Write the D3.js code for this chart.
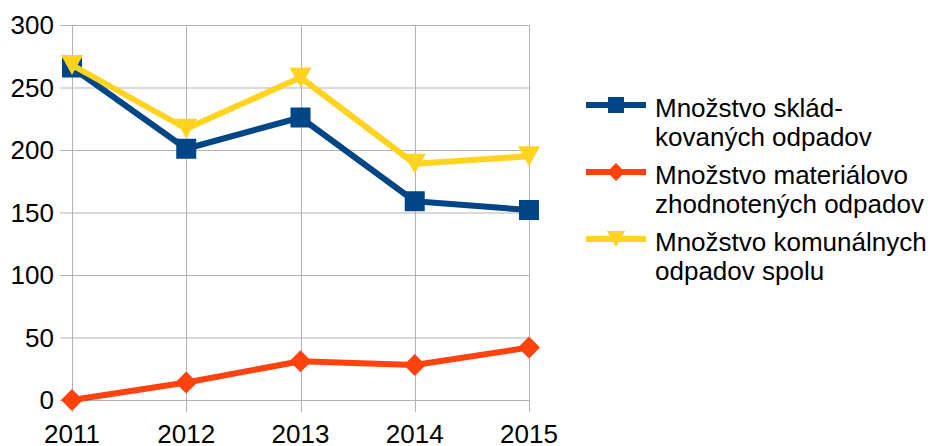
<!DOCTYPE html>
<html>
<head>
<meta charset="utf-8">
<script src="https://cdn.jsdelivr.net/npm/d3@7"></script>
<style>
  body { margin: 0; background: #fff; }
  text { font-family: "Liberation Sans", Arial, sans-serif; fill: #000; }
</style>
</head>
<body>
<svg width="933" height="446"></svg>
<script>
var years = ["2011", "2012", "2013", "2014", "2015"];
var yTicks = [0, 50, 100, 150, 200, 250, 300];

var skladovane = [266, 201, 226, 159, 152];
var zhodnotene = [0, 14, 31, 28, 42];
var komunalne = [268, 217, 258, 189, 195];

var seriesNames = [
  ["Množstvo sklád-", "kovaných odpadov"],
  ["Množstvo materiálovo", "zhodnotených odpadov"],
  ["Množstvo komunálnych", "odpadov spolu"]
];
var seriesColors = ["#004586", "#ff420e", "#ffd320"];
var seriesShapes = ["square", "diamond", "triangle"];

var series = [skladovane, zhodnotene, komunalne].map(function(v, i) {
  return { name: seriesNames[i], values: v, color: seriesColors[i], shape: seriesShapes[i] };
});

var svg = d3.select("svg");
var plot = {left: 72, right: 529, top: 25, bottom: 400};

var xScale = d3.scalePoint().domain(years).range([plot.left, plot.right]);
var yScale = d3.scaleLinear().domain([0, 300]).range([plot.bottom, plot.top]);

var grid = svg.append("g");
// horizontal gridlines (extend left as ticks)
grid.selectAll(".hgrid")
    .data(yTicks)
  .enter().append("line")
    .attr("x1", plot.left - 12).attr("x2", plot.right)
    .attr("y1", function(d) { return yScale(d) + 0.5; })
    .attr("y2", function(d) { return yScale(d) + 0.5; })
    .attr("stroke", "#b3b3b3").attr("stroke-width", 1);
// vertical gridlines (extend down as ticks)
grid.selectAll(".vgrid")
    .data(years)
  .enter().append("line")
    .attr("x1", function(d) { return Math.round(xScale(d)) + 0.5; })
    .attr("x2", function(d) { return Math.round(xScale(d)) + 0.5; })
    .attr("y1", plot.top).attr("y2", plot.bottom + 12)
    .attr("stroke", "#b3b3b3").attr("stroke-width", 1);

svg.selectAll(".ylab")
    .data(yTicks)
  .enter().append("text")
    .attr("x", 54)
    .attr("y", function(d) { return yScale(d) + 9; })
    .attr("text-anchor", "end")
    .style("font-size", "26px")
    .text(function(d) { return d; });

svg.selectAll(".xlab")
    .data(years)
  .enter().append("text")
    .attr("x", function(d) { return xScale(d); })
    .attr("y", 443)
    .attr("text-anchor", "middle")
    .style("font-size", "26px")
    .text(function(d) { return d; });

function marker(sel, shape, size) {
  if (shape === "square") {
    sel.append("rect")
      .attr("x", -size / 2).attr("y", -size / 2)
      .attr("width", size).attr("height", size);
  } else if (shape === "diamond") {
    var h = size / 2 + 1;
    sel.append("path").attr("d", "M0," + (-h) + "L" + h + ",0L0," + h + "L" + (-h) + ",0Z");
  } else {
    var w = size / 2 + 1;
    sel.append("path").attr("d", "M" + (-w) + "," + (-size / 2) + "L" + w + "," + (-size / 2) + "L0," + (size / 2) + "Z");
  }
}

var line = d3.line()
    .x(function(d, i) { return xScale(years[i]); })
    .y(function(d) { return yScale(d); });

series.forEach(function(s) {
  var g = svg.append("g");
  g.append("path")
    .attr("d", line(s.values))
    .attr("fill", "none")
    .attr("stroke", s.color)
    .attr("stroke-width", 6)
    .attr("stroke-linejoin", "round");
  s.values.forEach(function(v, i) {
    var m = g.append("g")
      .attr("transform", "translate(" + xScale(years[i]) + "," + yScale(v) + ")")
      .attr("fill", s.color);
    marker(m, s.shape, 20);
  });
});

// legend
var legend = svg.append("g");
series.forEach(function(s, i) {
  var cy = 105 + i * 67;
  var lg = legend.append("g");
  lg.append("line")
    .attr("x1", 586).attr("x2", 646)
    .attr("y1", cy).attr("y2", cy)
    .attr("stroke", s.color).attr("stroke-width", 6);
  var m = lg.append("g")
    .attr("transform", "translate(616," + cy + ")")
    .attr("fill", s.color);
  marker(m, s.shape, 16);
  s.name.forEach(function(t, j) {
    lg.append("text")
      .attr("x", 655)
      .attr("y", cy + 12 + j * 29)
      .style("font-size", "26px")
      .text(t);
  });
});
</script>
</body>
</html>
